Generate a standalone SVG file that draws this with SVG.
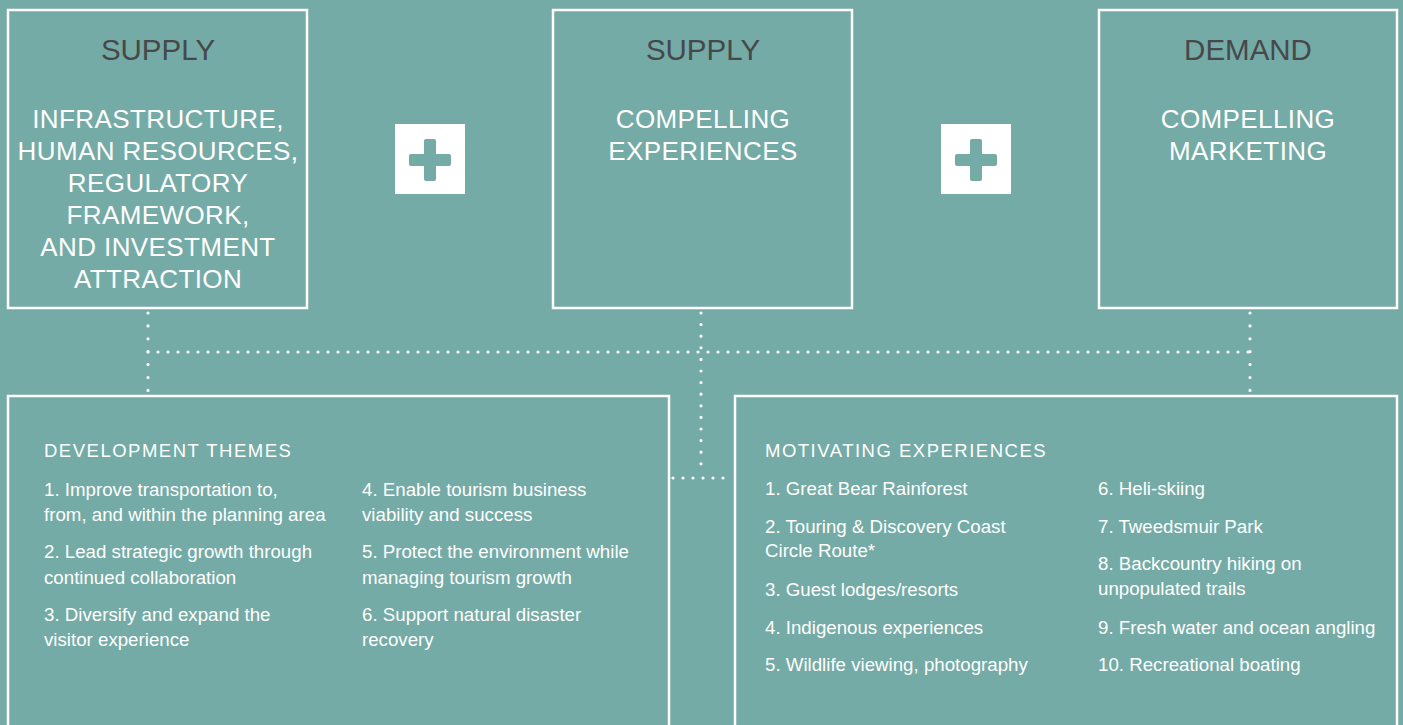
<svg xmlns="http://www.w3.org/2000/svg" width="1403" height="725" viewBox="0 0 1403 725">
<style>
.box{fill:none;stroke:#ffffff;stroke-width:2.5}
.hd{font-family:"Liberation Sans",Arial,sans-serif;font-size:29.5px;fill:#47484a;text-anchor:middle}
.ttl{font-family:"Liberation Sans",Arial,sans-serif;font-size:26px;fill:#ffffff;text-anchor:middle;letter-spacing:0.4px}
.sub{font-family:"Liberation Sans",Arial,sans-serif;font-size:18.5px;fill:#ffffff;letter-spacing:1.5px}
.bd{font-family:"Liberation Sans",Arial,sans-serif;font-size:18.7px;fill:#ffffff}
.dot{fill:none;stroke:#ffffff;stroke-width:3.2;stroke-linecap:round}
.plus{fill:#ffffff}
.cross{fill:#74aba6}
</style>
<rect x="0" y="0" width="1403" height="725" fill="#74aba6"/>
<g id="connectors">
  <path class="dot" d="M148 313 V391" stroke-dasharray="0 12.9"/>
  <path class="dot" d="M148 352 H1250" stroke-dasharray="0 10"/>
  <path class="dot" d="M701 313 V464" stroke-dasharray="0 11.6"/>
  <path class="dot" d="M1250 313 V391" stroke-dasharray="0 12.9"/>
  <path class="dot" d="M673 478 H733" stroke-dasharray="0 10"/>
</g>
<g id="supply-infrastructure">
  <rect class="box" x="8" y="10" width="299" height="298"/>
  <text class="hd" x="158" y="60">SUPPLY</text>
  <text class="ttl" x="158" y="128">INFRASTRUCTURE,</text>
  <text class="ttl" x="158" y="160">HUMAN RESOURCES,</text>
  <text class="ttl" x="158" y="192">REGULATORY</text>
  <text class="ttl" x="158" y="224">FRAMEWORK,</text>
  <text class="ttl" x="158" y="256">AND INVESTMENT</text>
  <text class="ttl" x="158" y="288">ATTRACTION</text>
</g>
<g id="plus-1">
  <rect class="plus" x="395" y="124" width="70" height="70"/>
  <rect class="cross" x="409" y="154" width="42" height="12" rx="2"/>
  <rect class="cross" x="424" y="139" width="12" height="42" rx="2"/>
</g>
<g id="supply-experiences">
  <rect class="box" x="553" y="10" width="299" height="298"/>
  <text class="hd" x="703" y="60">SUPPLY</text>
  <text class="ttl" x="703" y="128">COMPELLING</text>
  <text class="ttl" x="703" y="160">EXPERIENCES</text>
</g>
<g id="plus-2">
  <rect class="plus" x="941" y="124" width="70" height="70"/>
  <rect class="cross" x="955" y="154" width="42" height="12" rx="2"/>
  <rect class="cross" x="970" y="139" width="12" height="42" rx="2"/>
</g>
<g id="demand-marketing">
  <rect class="box" x="1099" y="10" width="298" height="298"/>
  <text class="hd" x="1248" y="60">DEMAND</text>
  <text class="ttl" x="1248" y="128">COMPELLING</text>
  <text class="ttl" x="1248" y="160">MARKETING</text>
</g>
<g id="development-themes">
  <rect class="box" x="8" y="396" width="661" height="340"/>
  <text class="sub" x="44" y="457">DEVELOPMENT THEMES</text>
  <text class="bd" x="44" y="496">1. Improve transportation to,</text>
  <text class="bd" x="44" y="521">from, and within the planning area</text>
  <text class="bd" x="44" y="558">2. Lead strategic growth through</text>
  <text class="bd" x="44" y="584">continued collaboration</text>
  <text class="bd" x="44" y="621">3. Diversify and expand the</text>
  <text class="bd" x="44" y="646">visitor experience</text>
  <text class="bd" x="362" y="496">4. Enable tourism business</text>
  <text class="bd" x="362" y="521">viability and success</text>
  <text class="bd" x="362" y="558">5. Protect the environment while</text>
  <text class="bd" x="362" y="584">managing tourism growth</text>
  <text class="bd" x="362" y="621">6. Support natural disaster</text>
  <text class="bd" x="362" y="646">recovery</text>
</g>
<g id="motivating-experiences">
  <rect class="box" x="735" y="396" width="662" height="340"/>
  <text class="sub" x="765" y="457">MOTIVATING EXPERIENCES</text>
  <text class="bd" x="765" y="495">1. Great Bear Rainforest</text>
  <text class="bd" x="765" y="533">2. Touring &amp; Discovery Coast</text>
  <text class="bd" x="765" y="557">Circle Route*</text>
  <text class="bd" x="765" y="596">3. Guest lodges/resorts</text>
  <text class="bd" x="765" y="634">4. Indigenous experiences</text>
  <text class="bd" x="765" y="671">5. Wildlife viewing, photography</text>
  <text class="bd" x="1098" y="495">6. Heli-skiing</text>
  <text class="bd" x="1098" y="533">7. Tweedsmuir Park</text>
  <text class="bd" x="1098" y="570">8. Backcountry hiking on</text>
  <text class="bd" x="1098" y="595">unpopulated trails</text>
  <text class="bd" x="1098" y="634">9. Fresh water and ocean angling</text>
  <text class="bd" x="1098" y="671">10. Recreational boating</text>
</g>
</svg>
